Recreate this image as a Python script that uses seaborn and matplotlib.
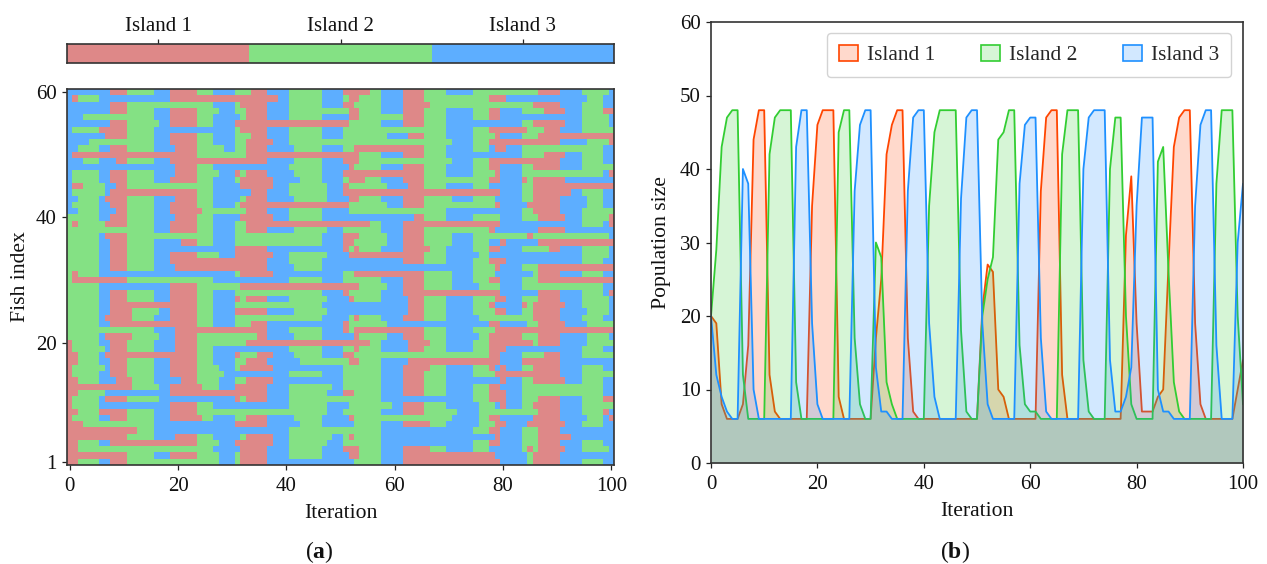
import numpy as np
import pandas as pd
import matplotlib
matplotlib.use("Agg")
import matplotlib.pyplot as plt
from matplotlib.colors import ListedColormap
from matplotlib.patches import Patch
import seaborn as sns

ISLANDS = ["Island 1", "Island 2", "Island 3"]
CELL_COLORS = ["#DE8888", "#84E184", "#5DAEFF"]
LINE_COLORS = ["#FF4500", "#32CD32", "#1E90FF"]

# Assignment of each fish (rows, top = fish 60) per iteration: letter + end iteration of the run
ASSIGN_LEFT = [
"B8 R11 G16 B19 R24 G27 B31 G34 R37 B41 G47 B51",
"B1 R2 G6 B19 R39 B41 G47 B51",
"B8 R11 G27 B31 G32 R37 B41 G47 B51",
"B8 R11 G16 B19 R24 G28 B31 G33 R37 B41 G51",
"B3 G16 B19 R24 G27 B32 G33 R37 B41 G47 B51",
"B8 R11 G17 B19 R24 G27 B31 R51",
"B1 G6 R11 G16 B31 G32 R37 B41 G47 B51",
"B7 R11 G16 B19 R24 G27 B31 G34 R37 B41 G47 B51",
"B4 G16 B19 R24 G27 B31 G33 R38 B41 G51",
"B2 G6 B8 R11 G16 B20 R24 G29 B31 G33 R37 B42 G47 B51",
"B1 R24 G33 R51",
"B3 G6 B9 R11 G16 B19 R37 B42 G47 B51",
"B20 R24 G27 B41 G47 B51",
"B1 G6 B8 R11 G16 B20 R24 G28 B31 R32 G33 R37 B42 G47 B51",
"B1 G6 B8 R11 G16 B19 R24 G27 B31 G32 R38 B43 G47 B51",
"B1 R3 G7 B9 R11 G27 B32 R38 B41 G48 B51",
"B1 G7 B8 R24 G27 B34 R37 B41 G48 B51",
"B2 G6 B7 R11 G16 B20 R24 G27 B32 G33 R37 B42 G48 B51",
"B1 G6 B8 R11 G16 B19 R24 G27 B31 G32 R51",
"B2 G6 B9 R11 G16 B19 R25 G33 R37 B41 G47 B51",
"G6 B8 R11 G16 B20 R24 G27 B32 R38 B41 G47 B51",
"G1 R2 G7 R11 G16 B19 R24 G27 B31 G33 R51",
"G16 B19 R24 G27 B31 G33 R37 B42 G48 B51",
"G6 B7 R11 G27 B31 G47 B51",
"G6 B8 R11 G16 B21 R24 G27 B31 G47 B51",
"G6 B8 R11 G16 B31 R37 B51",
"G6 B8 R11 G16 B19 R24 G28 B31 R38 B41 G48 B51",
"G6 B8 R11 G16 B19 R37 B41 G47 B51",
"G6 B8 R11 G16 B20 R37 B42 G47 B51",
"G1 R2 G6 B31 G32 R38 B51",
"G1 R11 G27 B41 G47 B51",
"G6 B19 R24 G32 R51",
"G6 B8 R11 G16 B19 R24 G27 B31 G47 B51",
"G6 B8 R11 G16 B19 R24 G27 B31 R32 G33 R37 B41 G48 B51",
"G6 B8 R24 G27 B31 G47 B51",
"G6 B8 R12 G17 B19 R24 G27 B31 R37 B42 G48 B51",
"G6 B7 R12 G16 B19 R24 G27 B31 G47 B51",
"G6 B8 R24 G27 B31 G34 R37 B51",
"G16 B20 R37 B41 G47 B51",
"G6 B7 R12 G17 B20 R24 G35 R37 B42 G47 B51",
"R1 G6 B8 R11 G16 B20 R24 G33 R51",
"R1 G7 B8 R11 G16 B20 R24 G27 B41 G47 B51",
"R2 G6 B7 R24 G27 B31 R32 G35 R38 B42 G47 B51",
"R2 G6 B8 R11 G16 B19 R24 G27 B31 G33 R37 B43 G51",
"R1 G7 B8 R11 G16 B19 R24 G28 B31 G32 R38 B51",
"R1 G6 B8 R11 G16 B19 R24 G29 B41 G47 B51",
"R2 G6 B9 R12 G16 B21 R24 G28 B31 G33 R38 B51",
"R12 G17 B19 R25 G28 B31 R37 B41 G49 B51",
"R2 G7 B19 R37 B41 G48 B51",
"R1 G6 B7 R11 G17 B31 R32 G33 R37 B41 G51",
"R1 G6 B19 R24 G27 B41 G48 B51",
"R2 G6 R11 G16 B19 R24 G48 B51",
"R1 G6 B8 R11 G16 B19 R25 G27 B31 G33 R37 B42 G47 B51",
"R3 G16 B31 R37 B43 G47 B51",
"R13 G16 B41 G51",
"R11 G16 B20 R24 G27 B32 G33 R38 B41 G49 B51",
"R2 G6 B8 R24 G28 B31 R38 B41 G48 B51",
"R2 G27 B32 R37 B41 G47 B51",
"R11 G16 B19 R24 G28 B31 G32 R37 B41 G47 B51",
"R2 G6 B8 R11 G28 B31 G32 R37 B51",
]
ASSIGN_RIGHT = [
"R56 G58 B62 R66 G70 B75 G87 R91 B95 G100 B101",
"G52 R54 G58 B62 R66 G78 R81 B96 G99 B101",
"R53 G58 B62 R67 G86 R91 B95 G99 B101",
"G52 R54 G58 B62 R66 G70 B75 G78 R80 B84 G88 R92 B95 G99 R101",
"B52 R54 G62 R66 G70 B75 G78 R80 B95 G100 B101",
"R52 G58 B62 R66 G70 B84 G86 R92 B95 G100 B101",
"G70 B75 G78 R85 G88 R91 B95 G101",
"G59 B63 R66 G70 B75 G79 R80 B84 G87 R101",
"G71 B75 G78 R91 B96 G100 R101",
"G53 R66 G70 B75 G78 B79 R81 B84 G99 B101",
"R54 G58 B62 R66 G70 B84 G88 R92 B95 G99 B101",
"R54 G71 B75 G78 R91 B95 G99 B101",
"B52 R53 G58 B62 R66 G70 B75 G78 R80 B84 G86 R91 B95 G101",
"R66 G70 B75 G79 R80 B84 G99 B100 R101",
"G52 R55 G58 B62 R66 G78 R80 B84 R85 G86 R92 B101",
"R52 G59 B63 R66 G70 B75 G78 B84 G86 R101",
"R80 B84 G86 R93 B95 G99 B101",
"B52 R54 G58 B62 R66 G71 B75 G79 B84 G86 R91 B96 G99 B101",
"R52 G59 B62 R66 G79 R80 B85 R91 B96 G99 B101",
"B52 G70 B84 G86 R91 B95 G101",
"B64 R66 G70 B75 G80 B84 G87 R92 B95 G100 R101",
"R56 G58 B62 R80 B95 G99 B100 R101",
"G58 B62 R66 G78 R79 B87 R92 B101",
"R54 G59 B62 R66 G71 B75 G85 R86 G100 B101",
"R53 G59 B62 R66 G71 B75 G78 B80 R81 B87 R101",
"R52 G53 R54 G58 B62 R67 G70 B75 G78 R80 B84 G89 R91 B95 G100 B101",
"B52 R66 G70 B76 G78 B95 G100 B101",
"B62 R66 G70 B75 G78 R81 B95 G99 B101",
"B75 G79 R80 B84 G87 R101",
"G53 R66 G71 B75 G79 B86 G87 R91 B95 G99 B101",
"G58 B62 R66 G71 B75 G78 R80 B84 G87 R101",
"R54 G59 B62 R66 G71 B76 G80 B84 G99 B101",
"R52 G58 B62 R80 B87 R91 B95 G99 B100 R101",
"B52 R53 G58 B63 R66 G70 B75 G79 R81 B84 G87 R91 B95 G100 B101",
"B63 R66 G70 B75 G78 R79 B84 R85 G86 R92 B95 G100 B101",
"B63 R66 G70 B75 G79 R81 B84 G86 R91 B96 G100 B101",
"B52 G53 R54 G58 B62 R66 G70 B76 G86 R91 B95 G99 B101",
"R52 G59 B78 R80 B85 G87 R92 B96 G101",
"R52 G53 R66 G70 B75 G79 R101",
"B53 R54 G59 B62 R66 G70 B76 G78 R84 G87 R91 B96 G100 B101",
"R56 G58 B63 R67 G70 B75 G78 R86 G87 R91 B96 G101",
"G53 R54 G58 B63 R66 G70 B75 G78 R81 B95 G99 B101",
"R53 G78 R80 B84 G88 R91 B95 G101",
"G52 R54 G58 B63 R80 B84 R91 B101",
"G58 B62 R67 G70 B75 G78 R79 B80 R81 B84 G86 R91 B95 G99 B101",
"G58 B62 R66 G70 B75 G79 R91 B95 G101",
"G58 B62 R66 G70 B80 R81 B84 G86 R92 B95 G99 B101",
"G58 B62 R66 G70 B75 G78 R80 B84 G99 B101",
"R53 G58 B62 R66 G70 B75 G78 R81 B84 G99 B101",
"G58 B75 G78 R81 B84 G87 R91 B95 G99 R101",
"B52 G60 B62 R66 G70 B76 G79 B80 R81 B84 G86 R91 B95 G101",
"G58 B62 R66 G72 B76 G87 R91 B95 G99 R100 B101",
"B52 R53 G71 B76 G78 R80 B86 R91 B96 G99 B100 R101",
"B53 G58 B62 R67 G70 B76 G79 R81 B85 R92 B95 G99 B101",
"G58 B75 G78 R80 B84 G87 R91 B101",
"G52 R53 G58 B79 R80 B84 G87 R93 B101",
"G58 B75 G78 R80 B84 G87 R91 B95 G99 B101",
"R54 G58 B62 R67 G70 B75 G78 B84 G85 R86 G87 R92 B95 G100 B101",
"B52 R54 G58 B62 R79 B85 G86 R91 B101",
"B53 G58 B62 R80 B85 G86 R91 B95 G99 B101",
]

ISLAND_1 = [20,19,8,6,6,6,8,16,44,48,48,12,7,6,6,6,6,6,6,35,46,48,48,48,9,6,6,6,6,6,6,17,25,42,46,48,48,17,7,6,6,6,6,6,6,6,6,6,6,6,6,21,27,26,10,9,6,6,6,6,6,6,37,47,48,48,12,6,6,6,6,6,6,6,6,6,6,6,31,39,19,7,7,7,9,10,27,43,47,48,48,19,8,6,6,6,6,6,6,10,14]
ISLAND_2 = [20,29,43,47,48,48,12,6,6,6,6,42,47,48,48,48,11,6,6,6,6,6,6,6,45,48,48,17,8,6,6,30,28,11,8,6,6,6,6,6,6,35,45,48,48,48,48,18,7,6,6,20,25,28,44,45,48,48,16,8,7,7,6,6,6,6,42,48,48,48,14,7,6,6,6,40,47,47,20,8,6,6,6,6,41,43,26,11,7,6,6,6,6,6,6,38,48,48,48,20,8]
ISLAND_3 = [20,12,9,7,6,6,40,38,10,6,6,6,6,6,6,6,43,48,48,19,8,6,6,6,6,6,6,37,46,48,48,13,7,7,6,6,6,37,47,48,48,19,9,6,6,6,6,36,47,48,48,19,8,6,6,6,6,6,38,46,47,47,17,7,6,6,6,6,6,6,40,47,48,48,48,14,7,7,9,13,35,47,47,47,10,7,7,6,6,6,6,35,46,48,48,16,6,6,6,30,38]
ITERATIONS = list(range(101))
X_TICKS = [0, 20, 40, 60, 80, 100]
FISH_TICKS = [1, 20, 40, 60]
POP_TICKS = [0, 10, 20, 30, 40, 50, 60]


def decode(spec, start=0):
    code = {"R": 0, "G": 1, "B": 2}
    out = []
    for tok in spec.split():
        end = int(tok[1:])
        out.extend([code[tok[0]]] * (end - start))
        start = end
    return out


matrix = pd.DataFrame([decode(l) + decode(r, 51) for l, r in zip(ASSIGN_LEFT, ASSIGN_RIGHT)],
                      columns=ITERATIONS)

sns.set_theme(style="ticks")
plt.rcParams["font.family"] = ["Liberation Serif", "DejaVu Serif"]
plt.rcParams["mathtext.fontset"] = "custom"
plt.rcParams["mathtext.rm"] = "Liberation Serif"
plt.rcParams["mathtext.bf"] = "Liberation Serif:bold"
plt.rcParams["axes.edgecolor"] = "#333333"
plt.rcParams["axes.linewidth"] = 1.2
plt.rcParams["xtick.color"] = "#222222"
plt.rcParams["ytick.color"] = "#222222"

W, H = 1267, 564
TICK_FS = 15
LABEL_FS = 15.6
LEGEND_FS = 15.4
TEXT = "#111111"
fig = plt.figure(figsize=(W / 100, H / 100), dpi=100, facecolor="white")


def box(l, t, r, b):
    return [l / W, 1 - b / H, (r - l) / W, (b - t) / H]


cmap = ListedColormap(CELL_COLORS)

# colour key
ax_key = fig.add_axes(box(67, 44, 614, 63))
sns.heatmap(pd.DataFrame([[0, 1, 2]], columns=ISLANDS), ax=ax_key, cmap=cmap, vmin=0, vmax=2,
            cbar=False, xticklabels=False, yticklabels=False)
ax_key.xaxis.tick_top()
ax_key.set_xticks([0.5, 1.5, 2.5], ISLANDS, fontsize=15, color=TEXT, rotation=0)
ax_key.set_yticks([])
ax_key.set_xlabel("")
ax_key.set_ylabel("")
ax_key.tick_params(axis="x", length=3.6, width=0.9, pad=2, top=True, bottom=False)

# assignment map
ax_a = fig.add_axes(box(67, 89, 614, 465))
sns.heatmap(matrix, ax=ax_a, cmap=cmap, vmin=0, vmax=2, cbar=False,
            xticklabels=False, yticklabels=False)
ax_a.set_xticks([v + 0.5 for v in X_TICKS], X_TICKS, fontsize=TICK_FS, color=TEXT, rotation=0)
ax_a.set_yticks([60 - v + 0.5 for v in FISH_TICKS], FISH_TICKS, fontsize=TICK_FS, color=TEXT, rotation=0)
ax_a.tick_params(length=3.6, width=0.9, bottom=True, left=True)
ax_a.tick_params(axis="x", pad=5)
ax_a.tick_params(axis="y", pad=4)
ax_a.set_xlabel("Iteration", fontsize=LABEL_FS, color=TEXT, labelpad=5.5)
ax_a.set_ylabel("Fish index", fontsize=LABEL_FS, color=TEXT, labelpad=4)

for ax in (ax_key, ax_a):
    for s in ax.spines.values():
        s.set_visible(True)
        s.set_color("#333333")
        s.set_linewidth(1.2)

# population sizes
ax_b = fig.add_axes(box(711, 22, 1243, 463))
handles = []
for name, vals, col in zip(ISLANDS, [ISLAND_1, ISLAND_2, ISLAND_3], LINE_COLORS):
    ax_b.fill_between(ITERATIONS, vals, 0, color=col, alpha=0.2, linewidth=0, zorder=2)
    sns.lineplot(x=ITERATIONS, y=vals, ax=ax_b, color=col, linewidth=1.3, legend=False, zorder=2)
    handles.append(Patch(facecolor=matplotlib.colors.to_rgba(col, 0.2), edgecolor=col,
                         linewidth=1.2, label=name))
ax_b.set_xlim(0, 100)
ax_b.set_ylim(0, 60)
ax_b.set_xticks(X_TICKS, X_TICKS, fontsize=TICK_FS, color=TEXT)
ax_b.set_yticks(POP_TICKS, POP_TICKS, fontsize=TICK_FS, color=TEXT)
ax_b.tick_params(length=3.6, width=0.9)
ax_b.tick_params(axis="x", pad=5)
ax_b.tick_params(axis="y", pad=4)
ax_b.set_xlabel("Iteration", fontsize=LABEL_FS, color=TEXT, labelpad=5.5)
ax_b.set_ylabel("Population size", fontsize=LABEL_FS, color=TEXT, labelpad=6)
for s in ax_b.spines.values():
    s.set_visible(True)
    s.set_color("#333333")
    s.set_linewidth(1.2)
ax_b.legend(handles=handles, ncol=3, loc="upper right", bbox_to_anchor=(0.9774, 0.975),
            fontsize=LEGEND_FS, frameon=True, framealpha=0.85, edgecolor="#CCCCCC",
            borderaxespad=0, columnspacing=2.15, handlelength=0.88, handleheight=0.8,
            handletextpad=0.42, borderpad=0.55)

fig.text(319 / W, 1 - 552 / H, r"($\mathbf{a}$)", ha="center", va="center", fontsize=17, color=TEXT)
fig.text(955 / W, 1 - 552 / H, r"($\mathbf{b}$)", ha="center", va="center", fontsize=17, color=TEXT)

fig.savefig("out.png", dpi=100, facecolor="white")
